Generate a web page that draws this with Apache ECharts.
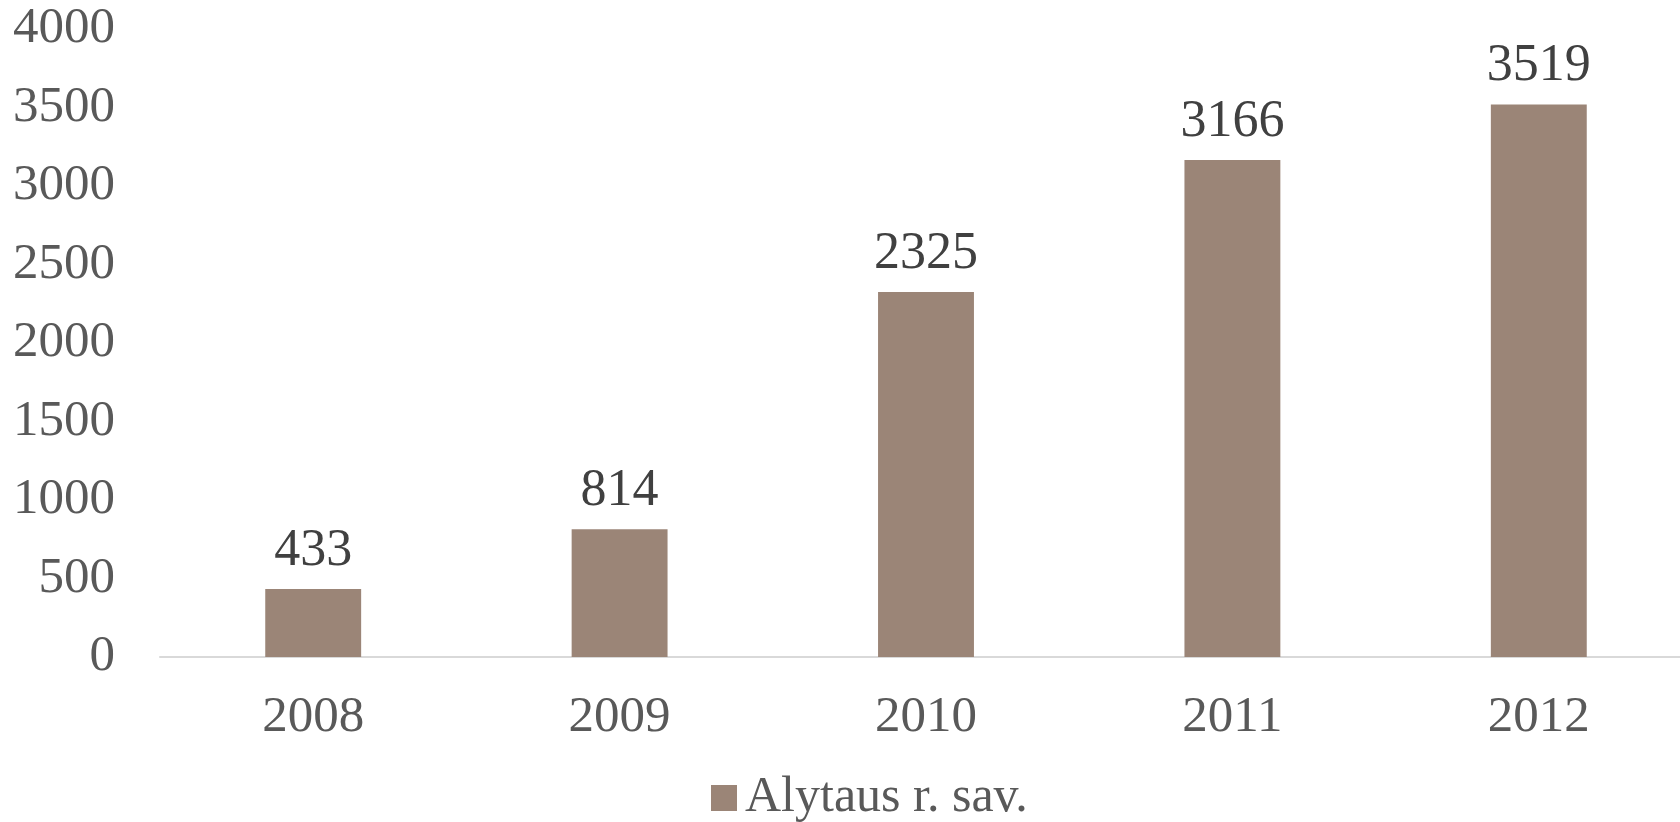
<!DOCTYPE html>
<html>
<head>
<meta charset="utf-8">
<title>Alytaus r. sav.</title>
<script src="https://cdn.jsdelivr.net/npm/echarts@6/dist/echarts.min.js"></script>
<style>
  html, body { margin: 0; padding: 0; background: #fff; }
  #main { width: 1680px; height: 822px; }
</style>
</head>
<body>
<div id="main"></div>
<script type="text/javascript">
    // chart data
    var years = ['2008', '2009', '2010', '2011', '2012'];
    var values = [433, 814, 2325, 3166, 3519];
    var seriesName = 'Alytaus r. sav.';

    var font = 'Liberation Serif';
    var myChart = echarts.init(document.getElementById('main'));
    var option = {
        animation: false,
        textStyle: { fontFamily: font },
        legend: {
            bottom: -6,
            left: 706,
            itemWidth: 26,
            itemHeight: 26,
            icon: 'rect',
            textStyle: { fontFamily: font, fontSize: 50, color: '#595959', padding: [0, 0, 0, 3] },
            data: [seriesName]
        },
        // plot area runs a little past the right edge, like the original
        grid: { left: 160, width: 1532, top: 29, height: 628, outerBoundsMode: 'none' },
        xAxis: {
            type: 'category',
            data: years,
            axisLine: { lineStyle: { color: '#d9d9d9', width: 2 } },
            axisTick: { show: false },
            axisLabel: { fontFamily: font, fontSize: 51, color: '#595959', margin: 35 }
        },
        yAxis: {
            type: 'value',
            min: 0,
            max: 4000,
            interval: 500,
            splitLine: { show: false },
            axisLine: { show: false },
            axisTick: { show: false },
            axisLabel: {
                fontFamily: font, fontSize: 51, color: '#595959', margin: 45,
                formatter: function (v) { return String(v); }
            }
        },
        series: [{
            name: seriesName,
            type: 'bar',
            data: values,
            barWidth: '31.3%',
            itemStyle: { color: '#9b8577' },
            label: {
                show: true,
                position: 'top',
                distance: 12,
                fontFamily: font,
                fontSize: 52,
                color: '#404040'
            }
        }]
    };
    myChart.setOption(option);
</script>
</body>
</html>
